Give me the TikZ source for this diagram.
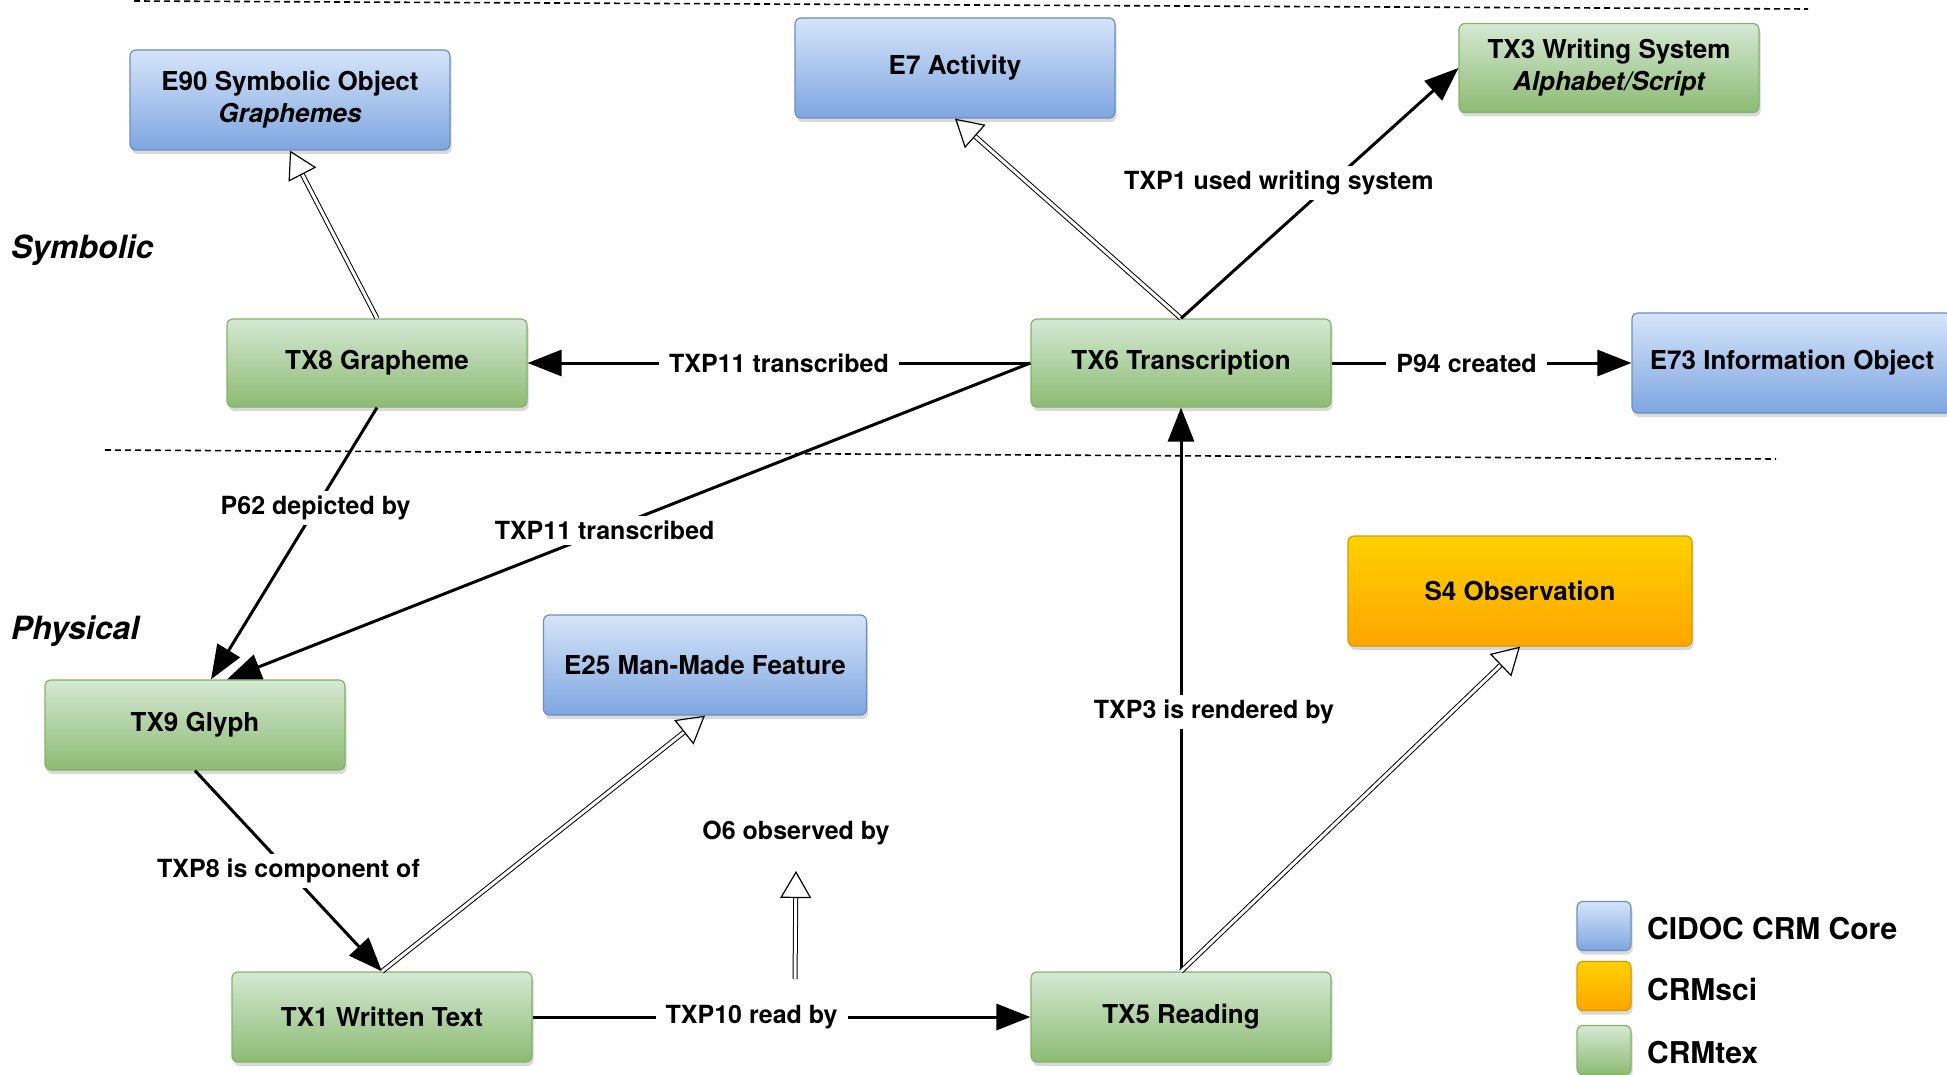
\documentclass[tikz,border=0pt]{standalone}
\usepackage{fontspec}
\setmainfont{TeX Gyre Heros}
\usetikzlibrary{arrows.meta,shadows}

\definecolor{coreTop}{HTML}{D6E4FA}
\definecolor{coreBot}{HTML}{7EA6E0}
\definecolor{coreLine}{HTML}{6C8EBF}
\definecolor{sciTop}{HTML}{FFD200}
\definecolor{sciBot}{HTML}{FFA500}
\definecolor{sciLine}{HTML}{D79B00}
\definecolor{texTop}{HTML}{D5E8D4}
\definecolor{texBot}{HTML}{8CBB72}
\definecolor{texLine}{HTML}{82B366}

\begin{document}
\begin{tikzpicture}[x=0.5pt,y=-0.5pt]
  \tikzset{
    cls/.style={draw, rounded corners=3pt, line width=0.6pt, align=center,
      font=\fontsize{13}{16}\selectfont\bfseries,
      drop shadow={shadow xshift=0.8pt, shadow yshift=-2pt, opacity=0.3}},
    core/.style={cls, top color=coreTop, bottom color=coreBot, draw=coreLine,
      minimum width=160pt, minimum height=50pt},
    sci/.style={cls, top color=sciTop, bottom color=sciBot, draw=sciLine,
      minimum width=172pt, minimum height=55pt},
    tex/.style={cls, top color=texTop, bottom color=texBot, draw=texLine,
      minimum width=150pt, minimum height=45pt},
    rel/.style={line width=1.5pt, -{Triangle[length=17pt,width=13pt]}},
    isa/.style={double, double distance=1.5pt, line width=0.5pt,
      -{Triangle[open,length=13.5pt,width=15.5pt,line width=0.6pt]}},
    lbl/.style={fill=white, inner xsep=5pt, inner ysep=2.5pt,
      font=\fontsize{12.5}{15}\selectfont\bfseries},
    layer/.style={line width=0.8pt, dash pattern=on 3pt off 2pt},
    side/.style={anchor=west, font=\fontsize{16}{19}\selectfont\bfseries\itshape}
  }
  \clip (0,0) rectangle (1947,1075);

  \draw[layer] (134,1) -- (1808,9);
  \draw[layer] (105,450) -- (1776,459);
  \node[side] (symb) at (4,250) {Symbolic};
  \node[side] (phys) at (4,631) {Physical};

  \node[core] (e90) at (290,100) {E90 Symbolic Object\\\itshape Graphemes};
  \node[core] (e7) at (955,68) {E7 Activity};
  \node[tex, minimum height=44.5pt] (tx3) at (1609,68) {TX3 Writing System\\\itshape Alphabet/Script};
  \node[tex, minimum height=44pt] (tx8) at (377,363) {TX8 Grapheme};
  \node[tex, minimum height=44pt] (tx6) at (1181,363) {TX6 Transcription};
  \node[core] (e73) at (1792,363) {E73 Information Object};
  \node[tex] (tx9) at (195,725) {TX9 Glyph};
  \node[core, minimum width=161.5pt] (e25) at (705,665) {E25 Man-Made Feature};
  \node[sci] (s4) at (1520,591) {S4 Observation};
  \node[tex] (tx1) at (382,1017) {TX1 Written Text};
  \node[tex] (tx5) at (1181,1017) {TX5 Reading};

  \draw[isa] (tx8.north) -- (e90.south);
  \draw[isa] (tx6.north) -- (e7.south);
  \draw[rel] (tx6.north) -- node[lbl, pos=0.54, xshift=-26pt] {TXP1 used writing system} (tx3.west);
  \draw[rel] (tx6.west) -- node[lbl] {TXP11 transcribed} (tx8.east);
  \draw[rel] (tx6.east) -- node[lbl, pos=0.45] {P94 created} (e73.west);
  \draw[rel] (tx8.south) -- node[lbl, pos=0.37] {P62 depicted by} ([xshift=8pt]tx9.north);
  \draw[rel] (tx6.west) -- node[lbl, pos=0.53] {TXP11 transcribed} ([xshift=16pt]tx9.north);
  \draw[rel] (tx9.south) -- node[lbl] {TXP8 is component of} (tx1.north);
  \draw[isa] (tx1.north) -- (e25.south);
  \draw[rel] (tx1.east) -- node[lbl, pos=0.44] {TXP10 read by} (tx5.west);
  \draw[rel] (tx5.north) -- node[lbl, pos=0.46, xshift=16.5pt] {TXP3 is rendered by} (tx6.south);
  \draw[isa] (tx5.north) -- (s4.south);

  \node[lbl] (o6) at (796,833) {O6 observed by};
  \coordinate (o6foot) at (795,979);
  \coordinate (o6tip) at (796,871);
  \draw[isa] (o6foot) -- (o6tip);

  \foreach \sty/\txt/\y in {core/CIDOC CRM Core/926, sci/CRMsci/986, tex/CRMtex/1050} {
    \node[\sty, minimum width=27pt, minimum height=24.5pt] (key\sty) at (1604,\y) {};
    \node[anchor=west, font=\fontsize{15}{18}\selectfont\bfseries] (name\sty) at (1640,\y+3) {\txt};
  }
\end{tikzpicture}
\end{document}
